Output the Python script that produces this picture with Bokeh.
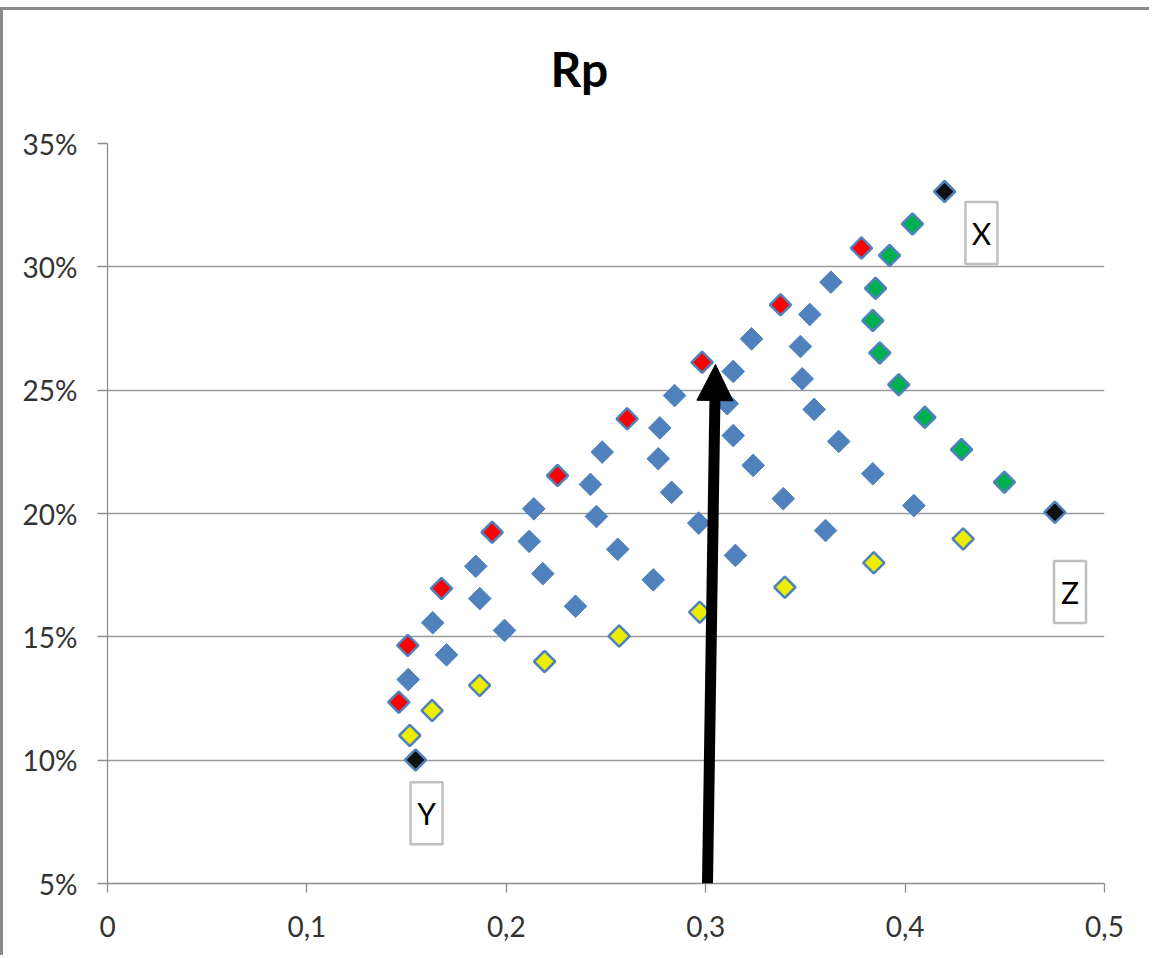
import math
from bokeh.plotting import figure
from bokeh.models import Range1d, FixedTicker, CustomJSTickFormatter, Arrow, NormalHead, Title
from bokeh.embed import file_html
from bokeh.resources import INLINE
from bokeh.core.properties import value

# ---- data (x = risk, y = return in %) ----
blue_x = [0.1508, 0.1631, 0.1700, 0.1847, 0.1867, 0.1991, 0.2138, 0.2115, 0.2183, 0.2347,
          0.2481, 0.2422, 0.2452, 0.2559, 0.2737, 0.2844, 0.2770, 0.2762, 0.2829, 0.2965,
          0.3149, 0.3230, 0.3138, 0.3108, 0.3138, 0.3238, 0.3389, 0.3601, 0.3628, 0.3522,
          0.3475, 0.3484, 0.3544, 0.3667, 0.3838, 0.4044]
blue_y = [13.27, 15.57, 14.27, 17.86, 16.55, 15.26, 20.19, 18.87, 17.56, 16.24,
          22.49, 21.18, 19.88, 18.55, 17.31, 24.78, 23.47, 22.22, 20.86, 19.61,
          18.30, 27.08, 25.76, 24.45, 23.16, 21.95, 20.60, 19.31, 29.38, 28.07,
          26.77, 25.46, 24.22, 22.92, 21.61, 20.32]

red_x = [0.1461, 0.1506, 0.1675, 0.1929, 0.2257, 0.2606, 0.2982, 0.3375, 0.3781]
red_y = [12.35, 14.65, 16.96, 19.24, 21.54, 23.84, 26.13, 28.46, 30.76]

yellow_x = [0.1516, 0.1628, 0.1866, 0.2192, 0.2566, 0.2970, 0.3397, 0.3843, 0.4291]
yellow_y = [11.00, 12.01, 13.03, 14.00, 15.03, 16.00, 17.01, 18.00, 18.97]

green_x = [0.4037, 0.3922, 0.3852, 0.3838, 0.3873, 0.3968, 0.4099, 0.4283, 0.4498]
green_y = [31.74, 30.46, 29.13, 27.82, 26.51, 25.22, 23.90, 22.59, 21.27]

black_x = [0.4198, 0.1545, 0.4751]
black_y = [33.05, 10.01, 20.05]

label_text = ["X", "Y", "Z"]
label_x = [0.4383, 0.1600, 0.4827]
label_y = [31.37, 7.85, 16.82]

arrow_from = (0.3009, 5.0)
arrow_to = (0.3049, 26.04)

x_ticks = [0, 0.1, 0.2, 0.3, 0.4, 0.5]
y_ticks = [5, 10, 15, 20, 25, 30, 35]
title_text = "Rp"

# ---- figure ----
BLUE = "#4F81BD"
FONT = "Lato"
GRAY = "#8e8e8e"

p = figure(width=1149, height=948, x_range=Range1d(0, 0.5), y_range=Range1d(5, 35),
           output_backend="svg", toolbar_location=None,
           min_border_left=104, min_border_right=48, min_border_top=133, min_border_bottom=75)
p.styles = {"margin-top": "7px", "border-top": "3px solid #8a8a8a",
            "border-left": "3px solid #8a8a8a"}
p.outline_line_color = None
p.background_fill_color = "white"
p.border_fill_color = "white"

# spacer between the frame and the title
p.add_layout(Title(text=" ", text_font_size="10px", standoff=24), "above")

p.title.text = title_text
p.title.align = "left"
p.title.offset = 443
p.title.standoff = 20
p.title.text_font = FONT
p.title.text_font_style = "bold"
p.title.text_font_size = "48px"
p.title.text_color = "black"

p.xgrid.visible = False
p.ygrid.grid_line_color = "#9a9a9a"
p.ygrid.grid_line_width = 1.3

p.xaxis.ticker = FixedTicker(ticks=x_ticks)
p.yaxis.ticker = FixedTicker(ticks=y_ticks)
p.xaxis.formatter = CustomJSTickFormatter(
    code="return tick === 0 ? '0' : tick.toFixed(1).replace('.', ',');")
p.yaxis.formatter = CustomJSTickFormatter(code="return tick.toFixed(0) + '%';")

for ax in (p.xaxis[0], p.yaxis[0]):
    ax.axis_line_color = GRAY
    ax.axis_line_width = 1.3
    ax.major_tick_line_color = GRAY
    ax.major_tick_line_width = 1.3
    ax.major_tick_in = 0
    ax.minor_tick_line_color = None
    ax.major_label_text_font = FONT
    ax.major_label_text_font_size = "28px"
    ax.major_label_text_color = "#333333"
p.xaxis.major_tick_out = 9
p.yaxis.major_tick_out = 10
p.xaxis.major_label_standoff = 23
p.yaxis.major_label_standoff = 20

# points
p.scatter(blue_x, blue_y, marker="square", angle=math.pi / 4, size=16,
          fill_color=BLUE, line_color=BLUE, line_width=1)
p.scatter(red_x, red_y, marker="square", angle=math.pi / 4, size=15,
          fill_color="#FF0000", line_color=BLUE, line_width=2.5)
p.scatter(yellow_x, yellow_y, marker="square", angle=math.pi / 4, size=15,
          fill_color="#EDED00", line_color=BLUE, line_width=2.5)
p.scatter(green_x, green_y, marker="square", angle=math.pi / 4, size=15,
          fill_color="#00B050", line_color=BLUE, line_width=2.5)
p.scatter(black_x, black_y, marker="square", angle=math.pi / 4, size=15,
          fill_color="#111111", line_color=BLUE, line_width=2.5)

# corner labels in boxes
p.rect(label_x, label_y, width=32, height=62, width_units="screen", height_units="screen",
       fill_color="white", line_color="#BFBFBF", line_width=2.5)
p.text(label_x, label_y, text=label_text, text_align="center", text_baseline="middle",
       text_font=value(FONT), text_font_size="30px", text_color="black")

# arrow
p.add_layout(Arrow(end=NormalHead(size=36, fill_color="black", line_color="black", line_width=1),
                   x_start=arrow_from[0], y_start=arrow_from[1],
                   x_end=arrow_to[0], y_end=arrow_to[1],
                   line_color="black", line_width=11))

open("out.html", "w").write(file_html(p, INLINE))
